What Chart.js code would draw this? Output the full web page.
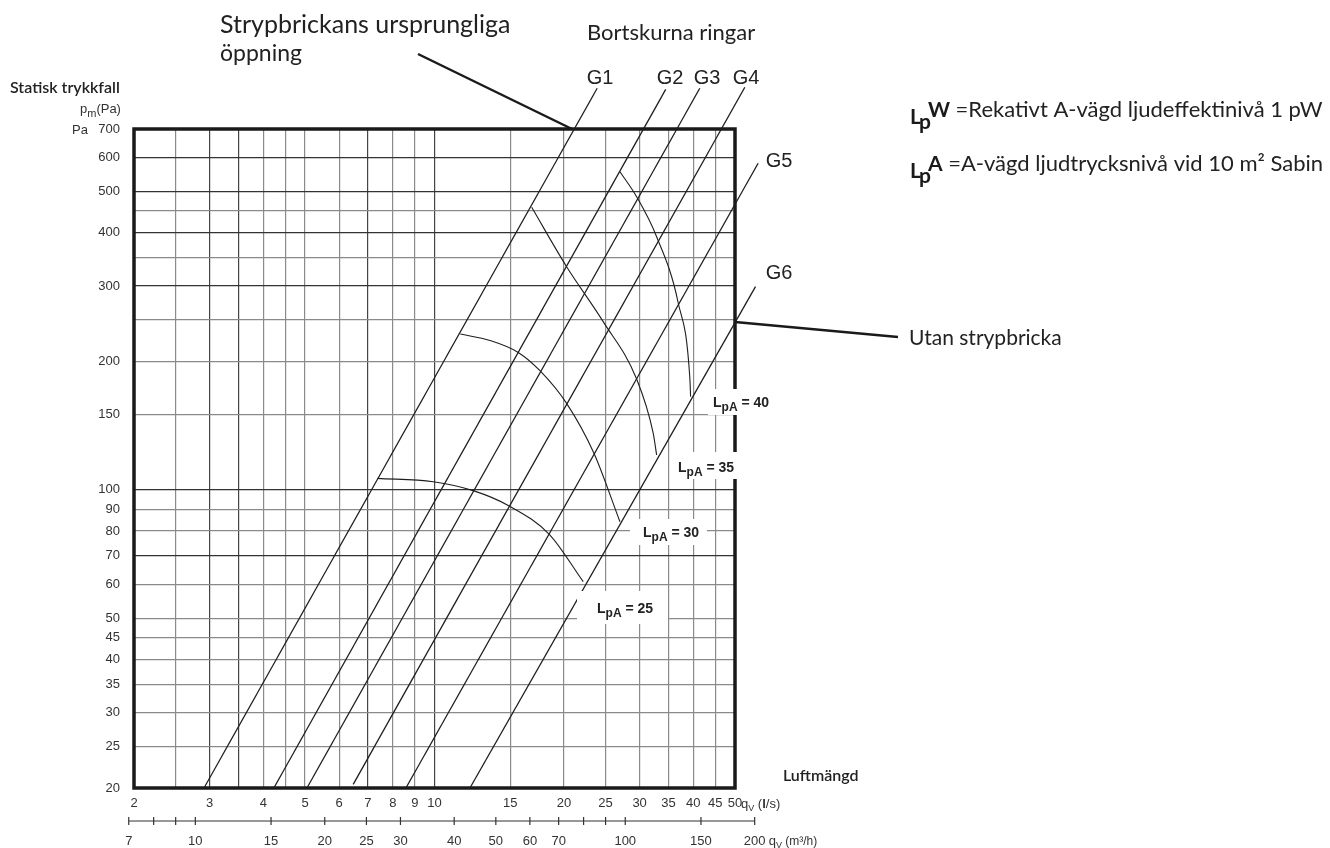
<!DOCTYPE html>
<html>
<head>
<meta charset="utf-8">
<script src="https://cdn.jsdelivr.net/npm/chart.js@4.4.1/dist/chart.umd.min.js"></script>
<style>
  html, body { margin: 0; padding: 0; background: #fff; }
</style>
</head>
<body>
<canvas id="myChart" width="1330" height="848"></canvas>
<script>
// throttle rings G1..G6, straight lines from start to end (l/s, Pa)
const gNames = ['G1', 'G2', 'G3', 'G4', 'G5', 'G6'];
const gStartFlow = [2.91, 4.23, 5.05, 6.47, 8.58, 12.09];
const gStartPres = [20, 20, 20, 20.4, 20, 20];
const gEndFlow = [23.9, 34.5, 41.4, 52.7, 56.6, 55.8];
const gEndPres = [872, 867, 872, 877, 582, 299];

// sound level curves LpA = 25 / 30 / 35 / 40
const lpaLevels = [25, 30, 35, 40];
const arc25Flow = [7.37, 9.93, 12.3, 14.92, 18.49, 22.18];
const arc25Pres = [106.3, 104.4, 99.5, 91.6, 78.6, 60.9];
const arc30Flow = [11.48, 13.46, 15.66, 17.59, 20.29, 23.49, 27.0];
const arc30Pres = [231.6, 223.7, 209.7, 190, 159.3, 121.7, 84.1];
const arc35Flow = [16.83, 20.29, 24.68, 29.52, 32.27, 32.86];
const arc35Pres = [458.8, 333, 247.6, 181.7, 135.5, 120.6];
const arc40Flow = [27.0, 29.52, 32.86, 36.9, 39.26, 39.42];
const arc40Pres = [556, 485.8, 391.5, 273.4, 182.4, 165.2];

// axis ticks
const xTicks = [2, 2.5, 3, 3.5, 4, 4.5, 5, 6, 7, 8, 9, 10, 15, 20, 25, 30, 35, 40, 45, 50];
const xLabels = [2, 3, 4, 5, 6, 7, 8, 9, 10, 15, 20, 25, 30, 35, 40, 45, 50];
const yTicks = [20, 25, 30, 35, 40, 45, 50, 60, 70, 80, 90, 100, 150, 200, 250, 300, 350, 400, 450, 500, 600, 700];
const yLabels = [20, 25, 30, 35, 40, 45, 50, 60, 70, 80, 90, 100, 150, 200, 300, 400, 500, 600, 700];
const m3hTicks = [7, 8, 9, 10, 15, 20, 25, 30, 40, 50, 60, 70, 80, 90, 100, 150, 200];
const m3hLabels = [7, 10, 15, 20, 25, 30, 40, 50, 60, 70, 100, 150, 200];

const darkX = [3, 3.5, 7, 10];
const darkY = [70, 100, 300, 400, 500, 600];

const LBL = 'Liberation Sans, Arial, sans-serif';
const TTL = 'Lato, sans-serif';

function pts(xs, ys) {
    return xs.map((v, i) => ({ x: v, y: ys[i] }));
}

let datasets = [];
gNames.forEach((n, i) => {
    datasets.push({
        label: n,
        data: [{ x: gStartFlow[i], y: gStartPres[i] }, { x: gEndFlow[i], y: gEndPres[i] }],
        borderColor: '#1e1e1e', borderWidth: 1.3, clip: false
    });
});
let arcs = [[arc25Flow, arc25Pres], [arc30Flow, arc30Pres], [arc35Flow, arc35Pres], [arc40Flow, arc40Pres]];
arcs.forEach((a, i) => {
    datasets.push({
        label: 'LpA ' + lpaLevels[i],
        data: pts(a[0], a[1]),
        borderColor: '#1e1e1e', borderWidth: 1.1,
        cubicInterpolationMode: 'monotone'
    });
});

function txt(c, s, x, y, font, align, color) {
    c.font = font;
    c.textAlign = align || 'left';
    c.textBaseline = 'alphabetic';
    c.fillStyle = color || '#222';
    c.fillText(s, x, y);
    return c.measureText(s).width;
}

// L with subscript, e.g. LpA = 40
function lpaLabel(c, x, y, rest) {
    let w = txt(c, 'L', x, y, 'bold 14px ' + LBL);
    let w2 = txt(c, 'pA', x + w, y + 4, 'bold 12px ' + LBL);
    txt(c, ' = ' + rest, x + w + w2, y, 'bold 14px ' + LBL);
}

const decor = {
    id: 'decor',
    beforeDatasetsDraw(chart) {
        const c = chart.ctx, a = chart.chartArea;
        c.save();
        c.strokeStyle = '#1a1a1a';
        c.lineWidth = 3.5;
        c.strokeRect(a.left, a.top, a.right - a.left, a.bottom - a.top);
        c.restore();
    },
    afterDatasetsDraw(chart) {
        const c = chart.ctx, a = chart.chartArea, xs = chart.scales.x;
        c.save();

        // white boxes behind the LpA labels
        c.fillStyle = '#fff';
        c.fillRect(708, 389, 64, 26);
        c.fillRect(672, 452, 68, 27);
        c.fillRect(630, 519, 77, 26);
        c.fillRect(577, 591, 91, 33);
        lpaLabel(c, 713, 407, '40');
        lpaLabel(c, 678, 472, '35');
        lpaLabel(c, 643, 537, '30');
        lpaLabel(c, 597, 613, '25');

        // ring labels
        const gl = [[600, 84], [670, 84], [707, 84], [746, 84], [779, 167], [779, 279]];
        gl.forEach((p, i) => txt(c, gNames[i], p[0], p[1], '20px ' + LBL, 'center', '#222'));

        // titles
        txt(c, 'Strypbrickans ursprungliga', 220, 33, '25px ' + TTL, 'left', '#222');
        txt(c, 'öppning', 220, 61, '23px ' + TTL, 'left', '#222');
        txt(c, 'Bortskurna ringar', 587, 40, '22px ' + TTL, 'left', '#222');
        txt(c, 'Utan strypbricka', 909, 345, '21px ' + TTL, 'left', '#222');
        txt(c, 'Statisk trykkfall', 10, 93, '600 16px ' + TTL, 'left', '#222');
        txt(c, 'Luftmängd', 783, 781, '600 16px ' + TTL, 'left', '#222');

        // leader lines
        c.strokeStyle = '#1a1a1a';
        c.lineWidth = 2.5;
        c.beginPath();
        c.moveTo(418, 54); c.lineTo(572, 129);
        c.moveTo(a.right, 322); c.lineTo(898, 337);
        c.stroke();

        // y axis unit
        let w = txt(c, 'p', 80, 113, '13px ' + LBL, 'left', '#333');
        let w2 = txt(c, 'm', 80 + w, 117, '11px ' + LBL, 'left', '#333');
        txt(c, '(Pa)', 80 + w + w2, 113, '13px ' + LBL, 'left', '#333');
        txt(c, 'Pa', 72, 134, '13px ' + LBL, 'left', '#333');

        // x unit l/s
        let ux = a.right + 6, uy = 808;
        w = txt(c, 'q', ux, uy, '13px ' + LBL, 'left', '#333');
        w2 = txt(c, 'V', ux + w, uy + 3, '9px ' + LBL, 'left', '#333');
        let w3 = txt(c, ' (', ux + w + w2, uy, '13px ' + LBL, 'left', '#333');
        let w4 = txt(c, 'l', ux + w + w2 + w3, uy, 'bold 13px ' + LBL, 'left', '#333');
        txt(c, '/s)', ux + w + w2 + w3 + w4, uy, '13px ' + LBL, 'left', '#333');

        // second flow axis in m3/h, placed with the l/s scale
        const ay = 821;
        const p0 = xs.getPixelForValue(m3hTicks[0] / 3.6);
        const p1 = xs.getPixelForValue(m3hTicks[m3hTicks.length - 1] / 3.6);
        c.strokeStyle = '#333';
        c.lineWidth = 1.2;
        c.beginPath();
        c.moveTo(p0, ay); c.lineTo(p1, ay);
        m3hTicks.forEach(v => {
            const px = xs.getPixelForValue(v / 3.6);
            c.moveTo(px, ay - 4); c.lineTo(px, ay + 4);
        });
        c.stroke();
        m3hLabels.forEach(v => {
            txt(c, String(v), xs.getPixelForValue(v / 3.6), 845, '13px ' + LBL, 'center', '#333');
        });
        ux = p1 + 14; uy = 845;
        w = txt(c, 'q', ux, uy, '13px ' + LBL, 'left', '#333');
        w2 = txt(c, 'V', ux + w, uy + 3, '9px ' + LBL, 'left', '#333');
        txt(c, ' (m³/h)', ux + w + w2, uy, '12px ' + LBL, 'left', '#333');

        // legend text on the right
        let lx = 910;
        w = txt(c, 'L', lx, 124, 'bold 21px ' + TTL, 'left', '#1a1a1a');
        txt(c, 'p', lx + w - 2, 129, 'bold 21px ' + TTL, 'left', '#1a1a1a');
        w2 = txt(c, 'W', lx + w + 7, 117, 'bold 21px ' + TTL, 'left', '#1a1a1a');
        txt(c, ' =Rekativt A-vägd ljudeffektinivå 1 pW', lx + w + 7 + w2, 117, '22px ' + TTL, 'left', '#222');
        w = txt(c, 'L', lx, 178, 'bold 21px ' + TTL, 'left', '#1a1a1a');
        txt(c, 'p', lx + w - 2, 183, 'bold 21px ' + TTL, 'left', '#1a1a1a');
        w2 = txt(c, 'A', lx + w + 7, 171, 'bold 21px ' + TTL, 'left', '#1a1a1a');
        txt(c, ' =A-vägd ljudtrycksnivå vid 10 m² Sabin', lx + w + 7 + w2, 171, '22px ' + TTL, 'left', '#222');

        c.restore();
    }
};

let myChart = new Chart(document.getElementById('myChart').getContext('2d'), {
    type: 'scatter',
    data: { datasets: datasets },
    options: {
        responsive: false,
        animation: false,
        devicePixelRatio: 1,
        showLine: true,
        elements: { point: { radius: 0, hoverRadius: 0 }, line: { tension: 0 } },
        layout: { padding: { left: 74, top: 129, right: 595, bottom: 30 } },
        plugins: { legend: { display: false }, tooltip: { enabled: false } },
        scales: {
            x: {
                type: 'logarithmic', min: 2, max: 50,
                afterBuildTicks: s => { s.ticks = xTicks.map(v => ({ value: v })); },
                afterFit: s => { s.height = 30; },
                border: { display: false },
                grid: {
                    drawTicks: false, lineWidth: 1.2,
                    color: ctx => darkX.includes(ctx.tick && ctx.tick.value) ? '#444' : '#8a8a8a'
                },
                ticks: {
                    autoSkip: false, maxRotation: 0, padding: 8, color: '#333',
                    font: { family: LBL, size: 13 },
                    callback: v => xLabels.includes(v) ? String(v) : ''
                }
            },
            y: {
                type: 'logarithmic', min: 20, max: 700,
                afterBuildTicks: s => { s.ticks = yTicks.map(v => ({ value: v })); },
                afterFit: s => { s.width = 60; },
                border: { display: false },
                grid: {
                    drawTicks: false, lineWidth: 1.2,
                    color: ctx => darkY.includes(ctx.tick && ctx.tick.value) ? '#333' : '#8a8a8a'
                },
                ticks: {
                    autoSkip: false, padding: 14, color: '#333',
                    font: { family: LBL, size: 13 },
                    callback: v => yLabels.includes(v) ? String(v) : ''
                }
            }
        }
    },
    plugins: [decor]
});
</script>
</body>
</html>
